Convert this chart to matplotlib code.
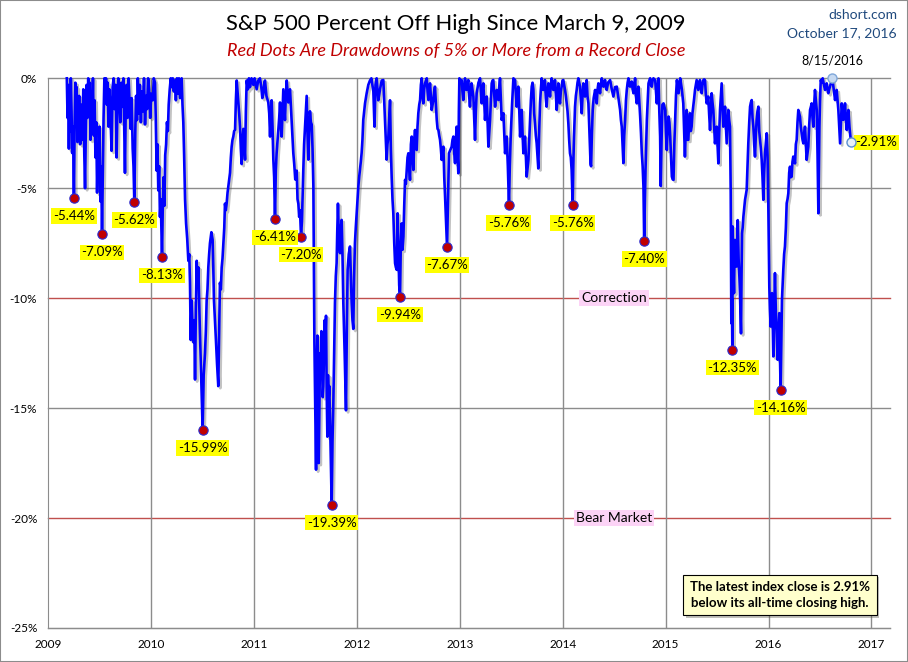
import matplotlib
matplotlib.use('Agg')
import matplotlib.pyplot as plt
import matplotlib.patheffects as pe
from matplotlib.patches import Rectangle

plt.rcParams['font.family'] = ['Lato', 'DejaVu Sans']

# percent off the running high (x in decimal years)
years = [
    2009.180, 2009.187, 2009.193, 2009.200, 2009.206, 2009.213, 2009.219, 2009.226, 2009.232, 2009.240,
    2009.249, 2009.256, 2009.263, 2009.270, 2009.276, 2009.283, 2009.290, 2009.300, 2009.310, 2009.320,
    2009.330, 2009.340, 2009.350, 2009.357, 2009.365, 2009.372, 2009.380, 2009.388, 2009.395, 2009.403,
    2009.410, 2009.418, 2009.426, 2009.434, 2009.442, 2009.450, 2009.458, 2009.466, 2009.474, 2009.482,
    2009.490, 2009.498, 2009.506, 2009.514, 2009.522, 2009.530, 2009.537, 2009.545, 2009.553, 2009.561,
    2009.569, 2009.577, 2009.585, 2009.593, 2009.600, 2009.615, 2009.625, 2009.635, 2009.645, 2009.655,
    2009.664, 2009.672, 2009.680, 2009.690, 2009.700, 2009.710, 2009.720, 2009.730, 2009.738, 2009.745,
    2009.752, 2009.760, 2009.770, 2009.780, 2009.790, 2009.800, 2009.810, 2009.820, 2009.828, 2009.836,
    2009.845, 2009.853, 2009.862, 2009.870, 2009.880, 2009.890, 2009.900, 2009.910, 2009.920, 2009.930,
    2009.940, 2009.950, 2009.960, 2009.970, 2009.980, 2009.990, 2010.000, 2010.015, 2010.025, 2010.037,
    2010.045, 2010.053, 2010.061, 2010.069, 2010.077, 2010.085, 2010.093, 2010.105, 2010.112, 2010.120,
    2010.128, 2010.136, 2010.145, 2010.153, 2010.162, 2010.170, 2010.180, 2010.190, 2010.200, 2010.210,
    2010.220, 2010.230, 2010.240, 2010.250, 2010.260, 2010.270, 2010.280, 2010.296, 2010.304, 2010.312,
    2010.320, 2010.329, 2010.339, 2010.350, 2010.361, 2010.370, 2010.377, 2010.384, 2010.393, 2010.401,
    2010.410, 2010.418, 2010.426, 2010.434, 2010.442, 2010.450, 2010.458, 2010.466, 2010.474, 2010.482,
    2010.491, 2010.500, 2010.510, 2010.523, 2010.531, 2010.539, 2010.547, 2010.555, 2010.563, 2010.571,
    2010.585, 2010.597, 2010.603, 2010.610, 2010.620, 2010.629, 2010.640, 2010.652, 2010.660, 2010.668,
    2010.677, 2010.685, 2010.693, 2010.701, 2010.710, 2010.717, 2010.725, 2010.733, 2010.742, 2010.750,
    2010.758, 2010.766, 2010.774, 2010.782, 2010.790, 2010.798, 2010.806, 2010.815, 2010.823, 2010.831,
    2010.839, 2010.847, 2010.855, 2010.863, 2010.871, 2010.879, 2010.887, 2010.896, 2010.904, 2010.912,
    2010.920, 2010.928, 2010.940, 2010.950, 2010.960, 2010.975, 2010.993, 2011.005, 2011.025, 2011.040,
    2011.057, 2011.070, 2011.080, 2011.090, 2011.100, 2011.106, 2011.120, 2011.138, 2011.147, 2011.155,
    2011.163, 2011.171, 2011.179, 2011.187, 2011.195, 2011.203, 2011.211, 2011.219, 2011.227, 2011.236,
    2011.244, 2011.252, 2011.260, 2011.268, 2011.276, 2011.284, 2011.292, 2011.300, 2011.308, 2011.317,
    2011.325, 2011.333, 2011.341, 2011.349, 2011.360, 2011.372, 2011.381, 2011.390, 2011.400, 2011.414,
    2011.422, 2011.430, 2011.438, 2011.446, 2011.456, 2011.465, 2011.478, 2011.486, 2011.495, 2011.503,
    2011.511, 2011.519, 2011.527, 2011.535, 2011.543, 2011.552, 2011.560, 2011.568, 2011.576, 2011.580,
    2011.586, 2011.594, 2011.602, 2011.608, 2011.615, 2011.621, 2011.628, 2011.635, 2011.641, 2011.647,
    2011.654, 2011.660, 2011.667, 2011.673, 2011.680, 2011.686, 2011.692, 2011.699, 2011.705, 2011.712,
    2011.718, 2011.725, 2011.731, 2011.738, 2011.746, 2011.754, 2011.762, 2011.770, 2011.778, 2011.786,
    2011.794, 2011.802, 2011.808, 2011.815, 2011.825, 2011.835, 2011.843, 2011.851, 2011.859, 2011.867,
    2011.880, 2011.893, 2011.901, 2011.909, 2011.920, 2011.932, 2011.940, 2011.948, 2011.956, 2011.964,
    2011.972, 2011.980, 2011.988, 2011.997, 2012.005, 2012.013, 2012.021, 2012.029, 2012.037, 2012.045,
    2012.053, 2012.061, 2012.070, 2012.078, 2012.086, 2012.094, 2012.110, 2012.126, 2012.140, 2012.159,
    2012.170, 2012.180, 2012.191, 2012.207, 2012.224, 2012.240, 2012.256, 2012.272, 2012.280, 2012.288,
    2012.296, 2012.305, 2012.313, 2012.321, 2012.329, 2012.337, 2012.345, 2012.353, 2012.362, 2012.370,
    2012.378, 2012.386, 2012.395, 2012.403, 2012.410, 2012.418, 2012.426, 2012.434, 2012.442, 2012.451,
    2012.459, 2012.467, 2012.475, 2012.483, 2012.491, 2012.499, 2012.507, 2012.515, 2012.524, 2012.532,
    2012.540, 2012.548, 2012.556, 2012.564, 2012.572, 2012.580, 2012.588, 2012.596, 2012.605, 2012.613,
    2012.621, 2012.629, 2012.637, 2012.645, 2012.653, 2012.661, 2012.670, 2012.678, 2012.686, 2012.694,
    2012.702, 2012.710, 2012.718, 2012.726, 2012.734, 2012.742, 2012.750, 2012.758, 2012.767, 2012.775,
    2012.783, 2012.791, 2012.799, 2012.807, 2012.815, 2012.823, 2012.831, 2012.840, 2012.848, 2012.856,
    2012.866, 2012.875, 2012.885, 2012.894, 2012.907, 2012.920, 2012.928, 2012.937, 2012.945, 2012.953,
    2012.961, 2012.969, 2012.977, 2012.985, 2012.990, 2012.995, 2013.006, 2013.017, 2013.025, 2013.033,
    2013.041, 2013.050, 2013.058, 2013.066, 2013.074, 2013.082, 2013.090, 2013.098, 2013.106, 2013.114,
    2013.122, 2013.131, 2013.139, 2013.147, 2013.155, 2013.163, 2013.180, 2013.196, 2013.204, 2013.212,
    2013.220, 2013.228, 2013.236, 2013.244, 2013.252, 2013.261, 2013.269, 2013.277, 2013.285, 2013.293,
    2013.301, 2013.309, 2013.317, 2013.325, 2013.333, 2013.342, 2013.350, 2013.358, 2013.366, 2013.374,
    2013.382, 2013.390, 2013.398, 2013.406, 2013.415, 2013.423, 2013.431, 2013.439, 2013.447, 2013.455,
    2013.466, 2013.477, 2013.485, 2013.494, 2013.507, 2013.520, 2013.536, 2013.544, 2013.552, 2013.560,
    2013.568, 2013.576, 2013.585, 2013.593, 2013.601, 2013.609, 2013.617, 2013.625, 2013.633, 2013.641,
    2013.649, 2013.657, 2013.666, 2013.674, 2013.682, 2013.690, 2013.698, 2013.706, 2013.714, 2013.722,
    2013.730, 2013.738, 2013.746, 2013.754, 2013.762, 2013.770, 2013.779, 2013.787, 2013.795, 2013.803,
    2013.811, 2013.819, 2013.827, 2013.835, 2013.843, 2013.851, 2013.860, 2013.868, 2013.876, 2013.884,
    2013.892, 2013.900, 2013.908, 2013.916, 2013.925, 2013.933, 2013.941, 2013.949, 2013.957, 2013.965,
    2013.973, 2013.981, 2013.989, 2013.997, 2014.005, 2014.013, 2014.022, 2014.030, 2014.038, 2014.046,
    2014.054, 2014.062, 2014.070, 2014.078, 2014.086, 2014.096, 2014.102, 2014.109, 2014.119, 2014.127,
    2014.135, 2014.143, 2014.151, 2014.160, 2014.168, 2014.176, 2014.184, 2014.192, 2014.200, 2014.208,
    2014.216, 2014.224, 2014.232, 2014.240, 2014.249, 2014.257, 2014.265, 2014.270, 2014.275, 2014.283,
    2014.291, 2014.300, 2014.314, 2014.322, 2014.330, 2014.338, 2014.346, 2014.354, 2014.362, 2014.370,
    2014.379, 2014.387, 2014.395, 2014.403, 2014.411, 2014.419, 2014.427, 2014.440, 2014.460, 2014.476,
    2014.492, 2014.508, 2014.525, 2014.541, 2014.557, 2014.565, 2014.573, 2014.581, 2014.589, 2014.597,
    2014.606, 2014.614, 2014.622, 2014.630, 2014.638, 2014.646, 2014.654, 2014.662, 2014.671, 2014.679,
    2014.687, 2014.695, 2014.703, 2014.711, 2014.719, 2014.727, 2014.735, 2014.743, 2014.752, 2014.760,
    2014.768, 2014.776, 2014.784, 2014.791, 2014.798, 2014.804, 2014.811, 2014.817, 2014.825, 2014.833,
    2014.841, 2014.849, 2014.857, 2014.865, 2014.873, 2014.881, 2014.890, 2014.898, 2014.906, 2014.914,
    2014.922, 2014.930, 2014.938, 2014.946, 2014.952, 2014.960, 2014.968, 2014.979, 2014.995, 2015.003,
    2015.011, 2015.020, 2015.028, 2015.036, 2015.044, 2015.052, 2015.060, 2015.068, 2015.076, 2015.084,
    2015.092, 2015.100, 2015.109, 2015.117, 2015.125, 2015.133, 2015.141, 2015.157, 2015.171, 2015.180,
    2015.187, 2015.196, 2015.204, 2015.212, 2015.220, 2015.228, 2015.236, 2015.244, 2015.252, 2015.260,
    2015.268, 2015.277, 2015.285, 2015.293, 2015.301, 2015.309, 2015.317, 2015.325, 2015.333, 2015.341,
    2015.350, 2015.358, 2015.366, 2015.374, 2015.382, 2015.390, 2015.398, 2015.406, 2015.414, 2015.422,
    2015.431, 2015.439, 2015.447, 2015.455, 2015.463, 2015.471, 2015.479, 2015.487, 2015.496, 2015.504,
    2015.512, 2015.520, 2015.528, 2015.536, 2015.544, 2015.552, 2015.560, 2015.568, 2015.577, 2015.585,
    2015.593, 2015.601, 2015.609, 2015.617, 2015.625, 2015.632, 2015.638, 2015.643, 2015.648, 2015.651,
    2015.657, 2015.664, 2015.669, 2015.674, 2015.682, 2015.690, 2015.695, 2015.700, 2015.705, 2015.709,
    2015.716, 2015.722, 2015.727, 2015.732, 2015.737, 2015.742, 2015.748, 2015.755, 2015.763, 2015.771,
    2015.779, 2015.787, 2015.795, 2015.803, 2015.812, 2015.820, 2015.828, 2015.836, 2015.844, 2015.852,
    2015.860, 2015.868, 2015.876, 2015.884, 2015.892, 2015.901, 2015.909, 2015.917, 2015.925, 2015.933,
    2015.941, 2015.949, 2015.957, 2015.965, 2015.973, 2015.982, 2015.990, 2015.998, 2016.007, 2016.013,
    2016.020, 2016.027, 2016.033, 2016.040, 2016.046, 2016.054, 2016.062, 2016.070, 2016.079, 2016.088,
    2016.096, 2016.104, 2016.110, 2016.117, 2016.124, 2016.130, 2016.137, 2016.143, 2016.151, 2016.159,
    2016.168, 2016.176, 2016.184, 2016.192, 2016.200, 2016.208, 2016.216, 2016.224, 2016.232, 2016.240,
    2016.249, 2016.257, 2016.265, 2016.273, 2016.281, 2016.289, 2016.297, 2016.305, 2016.313, 2016.322,
    2016.330, 2016.338, 2016.346, 2016.354, 2016.362, 2016.370, 2016.378, 2016.386, 2016.394, 2016.403,
    2016.411, 2016.419, 2016.427, 2016.435, 2016.443, 2016.451, 2016.460, 2016.468, 2016.476, 2016.484,
    2016.489, 2016.494, 2016.500, 2016.507, 2016.516, 2016.526, 2016.538, 2016.549, 2016.557, 2016.565,
    2016.573, 2016.581, 2016.589, 2016.597, 2016.607, 2016.617, 2016.625, 2016.630, 2016.638, 2016.646,
    2016.654, 2016.662, 2016.670, 2016.678, 2016.686, 2016.695, 2016.703, 2016.711, 2016.719, 2016.727,
    2016.735, 2016.743, 2016.751, 2016.760, 2016.768, 2016.776, 2016.781, 2016.786, 2016.794, 2016.802,
]
pct_off = [
    0.0, -1.8, -0.3, -3.2, -0.9, -2.4, 0.0, -1.5, -3.4, -2.2,
    -5.44, -2.0, -0.2, -1.6, -0.4, -2.9, -2.5, -0.8, -3.0, -1.2,
    -2.8, -0.5, -3.5, -5.0, -2.2, -0.3, -1.8, 0.0, -1.5, -0.2,
    -2.8, -0.6, -1.9, 0.0, -2.6, -1.0, -3.6, -2.0, -5.2, -3.0,
    -4.2, -2.2, -5.6, -4.0, -7.09, -4.2, -1.8, 0.0, -0.6, 0.0,
    -1.2, -0.2, -2.2, -0.5, -1.0, -3.3, -0.4, 0.0, -1.4, -0.3,
    -3.6, -1.2, 0.0, -0.8, -2.0, -0.2, -1.3, 0.0, -2.4, -4.3,
    -1.5, -0.3, -1.8, 0.0, -1.1, -2.3, -0.9, -3.2, -4.0, -5.62,
    -2.5, -0.8, -1.9, 0.0, -1.6, -0.3, -2.0, -0.6, -1.5, 0.0,
    -2.1, -0.8, -1.4, 0.0, -0.5, -1.8, -0.7, -1.0, 0.0, -0.2,
    -2.0, -4.2, -3.0, -5.1, -4.0, -6.3, -5.5, -8.13, -6.0, -4.5,
    -5.8, -3.5, -3.0, -2.0, -2.4, -1.2, -0.5, 0.0, -0.4, 0.0,
    -0.6, -0.1, -1.0, 0.0, -0.7, 0.0, -0.9, 0.0, -1.2, -2.0,
    -3.5, -5.5, -6.6, -7.3, -8.3, -8.0, -9.3, -11.9, -10.1, -11.2,
    -12.0, -11.0, -13.7, -10.5, -8.3, -9.5, -8.6, -10.2, -11.6, -13.0,
    -14.6, -15.99, -13.5, -12.5, -11.5, -10.1, -9.6, -8.6, -8.0, -7.5,
    -7.0, -7.35, -8.5, -10.1, -11.0, -11.9, -13.0, -14.0, -11.5, -9.3,
    -9.6, -8.6, -8.2, -7.5, -6.8, -5.7, -6.0, -5.7, -5.2, -4.9,
    -4.6, -4.3, -3.6, -3.1, -2.8, -2.65, -2.4, -2.35, -1.0, -0.1,
    -0.6, -1.1, -1.6, -2.2, -3.2, -3.9, -2.8, -2.3, -3.0, -3.7,
    -1.5, -0.1, -0.5, 0.0, -0.4, 0.0, -0.3, 0.0, -0.5, -0.1,
    0.0, -0.4, -0.9, -0.7, -0.2, -0.1, -0.8, -1.1, -1.6, -2.65,
    -1.5, -1.0, -2.2, -3.7, -4.5, -6.41, -4.2, -3.4, -2.9, -2.3,
    -1.8, -1.1, -2.2, -2.65, -1.5, -0.5, -1.2, -1.9, -0.8, -0.1,
    -0.6, -1.1, -0.7, -0.5, -1.5, -2.5, -3.4, -3.9, -4.6, -4.2,
    -5.5, -5.7, -6.3, -6.0, -7.20, -6.5, -4.2, -3.0, -2.2, -1.5,
    -0.8, -2.5, -3.7, -2.5, -1.5, -2.0, -2.1, -3.2, -4.9, -8.0,
    -12.0, -15.0, -17.8, -13.5, -11.7, -14.5, -17.5, -15.0, -12.5, -13.3,
    -11.5, -13.0, -14.5, -14.0, -12.5, -11.0, -12.0, -10.8, -14.0, -16.3,
    -13.5, -14.5, -14.0, -15.5, -17.5, -19.39, -16.5, -14.8, -12.5, -10.2,
    -9.0, -8.4, -7.0, -5.7, -7.5, -7.95, -6.8, -6.44, -8.0, -10.2,
    -12.5, -15.1, -11.5, -8.7, -8.0, -7.65, -9.0, -10.2, -11.0, -11.4,
    -9.0, -7.5, -6.8, -6.14, -5.5, -4.93, -4.5, -4.17, -3.8, -3.4,
    -2.8, -1.89, -1.5, -1.14, -0.9, -0.68, -0.3, -0.1, 0.0, -0.6,
    -2.2, -0.3, 0.0, -1.0, -0.5, -0.1, -0.08, -1.9, -2.8, -3.7,
    -3.0, -2.65, -1.8, -1.0, -3.2, -4.5, -5.5, -6.14, -7.5, -8.41,
    -8.6, -8.71, -6.14, -8.0, -9.4, -9.94, -7.5, -6.6, -7.8, -7.2,
    -5.8, -4.62, -4.8, -4.17, -3.6, -3.41, -4.0, -4.62, -3.0, -2.65,
    -3.5, -4.17, -2.8, -2.35, -3.0, -3.26, -2.2, -1.59, -1.2, -0.99,
    -0.3, 0.0, -0.8, -1.14, -0.5, -0.23, -0.1, 0.0, -0.6, -0.99,
    -0.5, -0.23, -0.8, -1.44, -1.2, -0.99, -0.6, -0.38, -1.2, -1.89,
    -2.3, -2.35, -2.6, -2.8, -3.2, -3.71, -3.4, -3.11, -4.5, -5.38,
    -6.6, -7.67, -5.5, -3.41, -3.26, -3.11, -2.8, -2.65, -3.4, -3.86,
    -2.8, -2.2, -3.5, -4.32, -1.5, 0.0, -0.2, -0.08, -0.6, -0.99,
    -0.4, 0.0, -0.5, -0.53, -0.2, -0.08, -0.8, -1.29, -0.6, -0.23,
    -0.5, -0.83, -1.8, -2.8, -1.5, -0.68, -0.2, 0.0, -0.6, -1.14,
    -0.5, -0.23, -1.0, -1.89, -1.3, -0.83, -2.0, -3.11, -2.5, -1.89,
    -1.0, -0.23, -0.1, -0.08, -0.7, -1.29, -0.9, -0.53, -0.8, -0.99,
    -0.4, 0.0, -1.0, -1.89, -1.7, -1.59, -2.5, -3.41, -3.0, -2.65,
    -4.0, -5.76, -4.0, -2.65, -1.2, 0.0, -0.08, -0.7, -1.29, -0.8,
    -0.38, -1.3, -2.65, -2.0, -1.44, -2.5, -3.41, -3.0, -2.65, -3.5,
    -4.47, -4.1, -3.71, -2.8, -1.89, -1.0, -0.38, -0.2, -0.5, -1.6,
    -2.05, -2.6, -2.95, -3.5, -4.1, -2.5, -1.14, -0.5, 0.0, -0.5,
    -0.53, -0.2, -0.08, -0.9, -1.29, -0.6, -0.23, -0.5, -0.83, -0.3,
    0.0, -0.3, -0.53, -0.2, -0.08, -0.8, -1.44, -0.9, -0.23, -0.9,
    -1.14, -0.6, -0.38, -0.1, -0.08, -0.3, -0.53, -0.8, -1.14, -1.5,
    -2.05, -2.8, -3.41, -3.6, -4.17, -5.76, -4.0, -2.65, -1.29, -0.8,
    -0.53, -0.2, 0.0, -0.2, -0.38, -1.0, -1.59, -0.8, -0.23, -0.5,
    -0.83, -0.4, -0.08, -0.8, -1.14, -2.2, -3.26, -3.9, -4.0, -2.5,
    -1.44, -0.9, -0.53, -0.8, -1.14, -0.5, -0.23, -0.4, -0.68, -0.3,
    0.0, -0.2, -0.38, -0.2, -0.08, -0.4, -0.53, -0.2, -0.08, -0.5,
    -0.83, -0.4, -0.38, -0.9, -1.44, -1.9, -2.2, -3.0, -3.86, -2.6,
    -1.89, -1.0, -0.53, -0.2, 0.0, -0.3, -0.38, -0.2, -0.15, -0.5,
    -0.68, -0.3, 0.0, -0.8, -1.14, -0.8, -0.38, -1.0, -1.74, -2.5,
    -3.41, -4.0, -4.93, -7.40, -5.5, -4.17, -3.0, -1.89, -1.0, -0.23,
    -0.1, 0.0, -0.3, -0.38, -0.1, 0.0, -0.05, -0.08, -0.6, -1.14,
    -0.5, 0.0, -1.5, -2.65, -4.9, -2.8, -1.2, -1.14, -1.44, -2.5,
    -3.26, -2.2, -1.74, -2.0, -2.65, -3.6, -4.47, -4.6, -4.62, -3.0,
    -1.89, -0.8, -0.08, -0.4, -0.68, -0.3, 0.0, -0.5, -1.14, -2.5,
    -3.56, -2.2, -1.44, -2.8, -2.8, -2.0, -1.59, -2.4, -2.2, -1.6,
    -1.29, -0.9, -0.53, -0.3, -0.08, -0.3, -0.53, -0.3, -0.08, -0.4,
    -0.68, -0.3, -0.08, -0.05, -0.08, -0.7, -1.14, -1.0, -0.83, -1.6,
    -2.35, -1.5, -0.68, -1.1, -1.44, -2.2, -2.96, -2.6, -2.2, -3.0,
    -3.87, -2.5, -1.44, -0.8, -0.23, -1.2, -2.2, -1.8, -1.29, -2.1,
    -2.96, -2.2, -1.44, -1.9, -2.2, -5.23, -11.14, -10.0, -12.35, -6.74,
    -8.5, -9.77, -8.0, -7.35, -8.56, -8.56, -7.8, -6.45, -7.5, -8.26,
    -9.0, -9.77, -10.7, -11.6, -9.0, -7.05, -6.8, -6.3, -5.9, -5.53,
    -5.3, -5.08, -4.0, -2.96, -2.0, -1.29, -1.1, -0.99, -1.8, -2.2,
    -3.0, -3.56, -2.6, -1.89, -1.5, -1.29, -2.4, -2.8, -3.2, -3.71,
    -4.5, -5.53, -4.3, -3.41, -3.0, -2.5, -3.5, -6.0, -9.47, -10.5,
    -11.29, -10.5, -9.77, -11.0, -12.65, -10.5, -8.86, -10.5, -11.74, -12.8,
    -11.5, -10.68, -12.5, -14.16, -12.0, -10.07, -9.3, -8.71, -8.0, -7.65,
    -6.8, -5.68, -5.5, -5.23, -4.3, -4.02, -4.5, -4.47, -3.8, -3.56,
    -3.7, -3.87, -3.0, -2.8, -2.0, -1.44, -1.6, -1.74, -2.2, -2.5,
    -2.8, -2.96, -2.5, -2.2, -3.0, -3.71, -3.4, -3.11, -2.2, -1.44,
    -1.3, -1.14, -1.8, -2.2, -1.2, -0.53, -1.0, -1.44, -3.5, -6.14,
    -4.0, -2.2, -1.0, -0.08, -0.2, 0.0, -0.3, -0.53, -0.4, -0.23,
    -0.5, -0.68, -0.5, -0.38, -0.2, 0.0, -0.2, -0.38, -0.7, -0.99,
    -0.7, -0.53, -1.0, -1.44, -2.2, -2.96, -2.0, -1.14, -1.5, -1.89,
    -1.5, -1.14, -1.8, -2.35, -1.9, -1.44, -1.8, -2.2, -2.6, -2.91,
]

# drawdowns of 5% or more (red dots)
dd_years = [2009.249, 2009.522, 2009.836, 2010.105, 2010.500, 2011.203, 2011.456, 2011.754,
            2012.418, 2012.875, 2013.477, 2014.096, 2014.791, 2015.648, 2016.117]
dd_values = [-5.44, -7.09, -5.62, -8.13, -15.99, -6.41, -7.20, -19.39,
             -9.94, -7.67, -5.76, -5.76, -7.40, -12.35, -14.16]

peak_year, peak_label = 2016.617, '8/15/2016'
latest_year, latest_value = 2016.802, -2.91

year_ticks = [2009, 2010, 2011, 2012, 2013, 2014, 2015, 2016, 2017]
pct_ticks = [0, -5, -10, -15, -20, -25]

fig = plt.figure(figsize=(9.08, 6.62), dpi=100)
ax = fig.add_axes([48.3 / 908, 34 / 662, (890 - 48.3) / 908, (628 - 78.3) / 662])

ax.set_xlim(2009, 2017.18)
ax.set_ylim(-25, 0)

# grid: gray, with red lines at -10% and -20%
for y in pct_ticks:
    col = '#c0504d' if y in (-10, -20) else '#8c8c8c'
    ax.axhline(y, color=col, lw=1.0, zorder=1, clip_on=False)
for x in year_ticks[1:]:
    ax.axvline(x, color='#8c8c8c', lw=1.0, zorder=1)

for s in ['top', 'right']:
    ax.spines[s].set_visible(False)
for s in ['left', 'bottom']:
    ax.spines[s].set_color('#8c8c8c')

ax.set_xticks(year_ticks)
ax.set_xticklabels([str(y) for y in year_ticks])
ax.set_yticks(pct_ticks)
ax.set_yticklabels([f'{y}%' for y in pct_ticks])
ax.tick_params(length=0, labelsize=8.5, pad=8)

# main line with a soft shadow
ax.plot(years, pct_off, color='#0000ff', lw=1.9, zorder=3, clip_on=False,
        path_effects=[pe.SimpleLineShadow(offset=(1.5, -1.5), shadow_color='#555555', alpha=0.35),
                      pe.Normal()])

ax.scatter(dd_years, dd_values, s=45, color='#c00000', edgecolors='#2a2ad0',
           linewidths=0.8, zorder=5, clip_on=False)
for x, v in zip(dd_years, dd_values):
    ax.annotate(f'{v:.2f}%', (x, v), xytext=(0, -13), textcoords='offset points',
                ha='center', va='center', fontsize=9.5, zorder=6,
                bbox=dict(boxstyle='square,pad=0.12', fc='#ffff00', ec='none'))

# all-time high and latest close
ax.plot(peak_year, 0, 'o', ms=6.5, mfc='#c6d9f1', mec='#7fa7d9', mew=1, zorder=6, clip_on=False)
ax.annotate(peak_label, (peak_year, 0), xytext=(0, 13), textcoords='offset points',
            ha='center', va='center', fontsize=9)
ax.plot(latest_year, latest_value, 'o', ms=6.5, mfc='#e8f0fb', mec='#5b8fd0', mew=1, zorder=6)
ax.annotate(f'{latest_value:.2f}%', (latest_year, latest_value), xytext=(18, 0),
            textcoords='offset points', ha='center', va='center', fontsize=9.5,
            bbox=dict(boxstyle='square,pad=0.12', fc='#ffff00', ec='none'))

for y, txt in [(-10, 'Correction'), (-20, 'Bear Market')]:
    ax.text(2014.5, y, txt, ha='center', va='center', fontsize=10, zorder=4,
            bbox=dict(boxstyle='square,pad=0.15', fc='#fcd3f6', ec='none'))

note = fig.text(780 / 908, 1 - 595 / 662,
                'The latest index close is 2.91%\nbelow its all-time closing high.',
                ha='center', va='center', fontsize=9.5, fontweight='bold', linespacing=1.35,
                bbox=dict(boxstyle='square,pad=0.5', fc='#ffffcc', ec='black', lw=0.8))
note.get_bbox_patch().set_path_effects([pe.withSimplePatchShadow(offset=(2, -2), alpha=0.35)])

fig.text(0.502, 1 - 24 / 662, 'S&P 500 Percent Off High Since March 9, 2009',
         ha='center', va='center', fontsize=15.8)
fig.text(0.502, 1 - 51 / 662, 'Red Dots Are Drawdowns of 5% or More from a Record Close',
         ha='center', va='center', fontsize=13, style='italic', color='#c00000')
fig.text(897 / 908, 1 - 15 / 662, 'dshort.com', ha='right', va='center',
         fontsize=10, color='#1f497d')
fig.text(897 / 908, 1 - 33 / 662, 'October 17, 2016', ha='right', va='center',
         fontsize=10, color='#1f497d')

fig.patches.append(Rectangle((0, 0), 1, 1, transform=fig.transFigure, fill=False,
                             ec='#8c8c8c', lw=1.5))

fig.savefig('out.png', dpi=100)
